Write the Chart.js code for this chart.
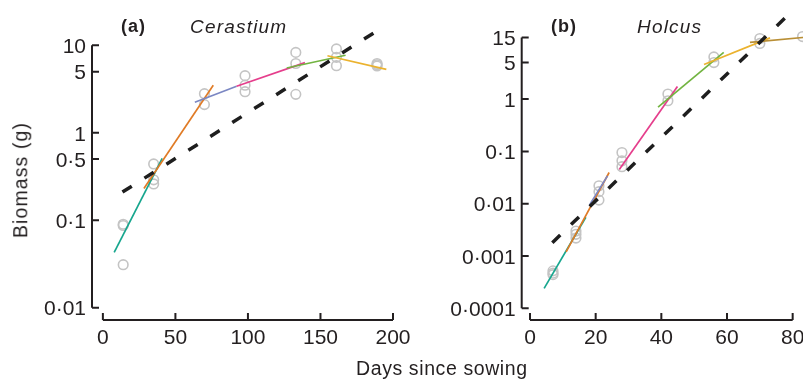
<!DOCTYPE html>
<html>
<head>
<meta charset="utf-8">
<script src="https://cdn.jsdelivr.net/npm/chart.js"></script>
<style>
  html, body { margin: 0; padding: 0; overflow: hidden; background: #fff; width: 803px; height: 379px; }
  body { position: relative; font-family: "Liberation Sans", Arial, sans-serif; color: #231f20; }
  canvas { position: absolute; top: 0; }
  #chartA { left: 0; }
  #chartB { left: 400px; }
  .lbl { position: absolute; white-space: nowrap; z-index: 2; }
  .tag { font-weight: bold; font-size: 18px; line-height: 18px; letter-spacing: 1px; top: 16.5px; }
  .sp { font-style: italic; font-size: 19px; line-height: 19px; letter-spacing: 1.2px; top: 17px; }
</style>
</head>
<body>
<canvas id="chartA" width="430" height="379"></canvas>
<canvas id="chartB" width="440" height="379"></canvas>

<div class="lbl tag" style="left:121px">(a)</div>
<div class="lbl sp" style="left:190px">Cerastium</div>
<div class="lbl tag" style="left:551px">(b)</div>
<div class="lbl sp" style="left:637px">Holcus</div>
<div class="lbl" style="left:356px; top:359px; font-size:19.5px; line-height:19.5px; letter-spacing:0.6px">Days since sowing</div>
<div class="lbl" style="left:20.5px; top:180px; font-size:19.5px; line-height:19.5px; letter-spacing:1.1px; transform:translate(-50%,-50%) rotate(-90deg)">Biomass (g)</div>

<script>
// (a) Cerastium
const xTicksA = [0, 50, 100, 150, 200];
const yTicksA = [0.01, 0.1, 0.5, 1, 5, 10];
const daysA = [14, 14, 14, 35, 35, 35, 70, 70, 98, 98, 98, 133, 133, 133, 161, 161, 161, 189, 189, 189];
const massA = [0.09, 0.087, 0.031, 0.44, 0.29, 0.26, 2.8, 2.1, 4.5, 3.5, 2.95, 8.3, 6.2, 2.75, 9.1, 7.3, 5.85, 6.2, 6.0, 5.8];
// piecewise fits: [day0, mass0, day1, mass1]
const fitsA = [
  [7.8, 0.043, 40.9, 0.51],
  [28.3, 0.23, 76.1, 3.5],
  [63.4, 2.23, 92.2, 3.4],
  [92.2, 3.4, 139.3, 6.35],
  [126.7, 5.5, 167.3, 7.7],
  [154.8, 7.6, 195.4, 5.3]
];
const trendA = [[13.5, 0.21], [190, 15]];

// (b) Holcus
const xTicksB = [0, 20, 40, 60, 80];
const yTicksB = [0.0001, 0.001, 0.01, 0.1, 1, 5, 15];
const daysB = [7, 7, 7, 14, 14, 14, 21, 21, 21, 28, 28, 28, 42, 42, 56, 56, 70, 70, 83];
const massB = [0.00052, 0.00047, 0.00044, 0.003, 0.0026, 0.0022, 0.022, 0.017, 0.0117, 0.095, 0.066, 0.051, 1.25, 0.93, 6.4, 5.0, 14.4, 11.6, 15.7];
const fitsB = [
  [4.3, 0.00024, 17.0, 0.0055],
  [11.0, 0.0012, 24.1, 0.0395],
  [18.1, 0.0094, 23.6, 0.034],
  [27.2, 0.045, 44.9, 1.74],
  [39.0, 0.7, 59.0, 7.8],
  [53.0, 4.6, 73.1, 14.8],
  [67.0, 12.1, 88.0, 16.1]
];
const trendB = [[6.8, 0.0018], [79.2, 44]];

const fitColors = ["#17a68e", "#e07b26", "#7b87c3", "#e53e8c", "#72b441", "#ebb22e", "#b98f36"];
const INK = "#231f20";
const FONT = '"Liberation Sans", Arial, sans-serif';

const fmt = (v) => String(v).replace(".", "\u00b7");

// detached axis lines with inward ticks, from first to last tick
const axisLines = {
  id: "axisLines",
  afterDraw(chart) {
    const { ctx, chartArea, scales } = chart;
    const x = scales.x, y = scales.y;
    const xt = x.ticks.map((t) => t.value);
    const yt = y.ticks.map((t) => t.value);
    const yb = chartArea.bottom, xl = chartArea.left;
    ctx.save();
    ctx.strokeStyle = INK;
    ctx.lineWidth = 2;
    ctx.beginPath();
    ctx.moveTo(x.getPixelForValue(xt[0]), yb);
    ctx.lineTo(x.getPixelForValue(xt[xt.length - 1]), yb);
    xt.forEach((v) => {
      const px = x.getPixelForValue(v);
      ctx.moveTo(px, yb);
      ctx.lineTo(px, yb - 7);
    });
    ctx.moveTo(xl, y.getPixelForValue(yt[0]));
    ctx.lineTo(xl, y.getPixelForValue(yt[yt.length - 1]));
    yt.forEach((v) => {
      const py = y.getPixelForValue(v);
      ctx.moveTo(xl, py);
      ctx.lineTo(xl + 7, py);
    });
    ctx.stroke();
    ctx.restore();
  },
};

function panel(id, days, mass, fits, trend, xTicks, yTicks, box) {
  const sets = [{
    data: days.map((d, i) => ({ x: d, y: mass[i] })),
    showLine: false,
    pointRadius: 4.8,
    pointBorderWidth: 1.6,
    pointBorderColor: "#c4c4c4",
    pointBackgroundColor: "rgba(0,0,0,0)",
    clip: false,
    order: 100,
  }];
  fits.forEach((f, i) => {
    sets.push({
      data: [{ x: f[0], y: f[1] }, { x: f[2], y: f[3] }],
      showLine: true,
      pointRadius: 0,
      borderColor: fitColors[i],
      borderWidth: 1.7,
      clip: false,
      order: 50 - i,
    });
  });
  sets.push({
    data: trend.map((p) => ({ x: p[0], y: p[1] })),
    showLine: true,
    pointRadius: 0,
    borderColor: "#1e1e1e",
    borderWidth: 3.5,
    borderDash: [11, 15],
    clip: false,
    order: 0,
  });

  return new Chart(document.getElementById(id), {
    type: "scatter",
    data: { datasets: sets },
    options: {
      responsive: false,
      animation: false,
      events: [],
      layout: { autoPadding: false, padding: { left: 0, top: box.top, right: box.right, bottom: 0 } },
      plugins: { legend: { display: false }, tooltip: { enabled: false } },
      scales: {
        x: {
          type: "linear",
          bounds: "data",
          min: box.xmin,
          max: box.xmax,
          afterBuildTicks: (s) => {
            s.ticks = xTicks.map((v) => ({ value: v }));
            s.min = box.xmin; s.max = box.xmax;
          },
          afterFit: (s) => { s.height = 59; },
          grid: { display: false, drawTicks: false },
          border: { display: false },
          ticks: { padding: 6, autoSkip: false, maxRotation: 0, color: INK, font: { size: 21, family: FONT } },
        },
        y: {
          type: "logarithmic",
          bounds: "data",
          min: box.ymin,
          max: box.ymax,
          afterBuildTicks: (s) => {
            s.ticks = yTicks.map((v) => ({ value: v }));
            s.min = box.ymin; s.max = box.ymax;
          },
          afterFit: (s) => { s.width = box.left; },
          grid: { display: false, drawTicks: false },
          border: { display: false },
          ticks: { padding: 6, labelOffset: 2, autoSkip: false, color: INK, font: { size: 21, family: FONT }, callback: (v) => fmt(v) },
        },
      },
    },
    plugins: [axisLines],
  });
}

panel("chartA", daysA, massA, fitsA, trendA, xTicksA, yTicksA,
  { left: 92, top: 19, right: 37, xmin: -7.5, xmax: 200, ymin: 0.00723, ymax: 20 });
panel("chartB", daysB, massB, fitsB, trendB, xTicksB, yTicksB,
  { left: 121.7, top: 18.6, right: 14.5, xmin: -2.53, xmax: 90, ymin: 0.0000597, ymax: 34.6 });
</script>
</body>
</html>
